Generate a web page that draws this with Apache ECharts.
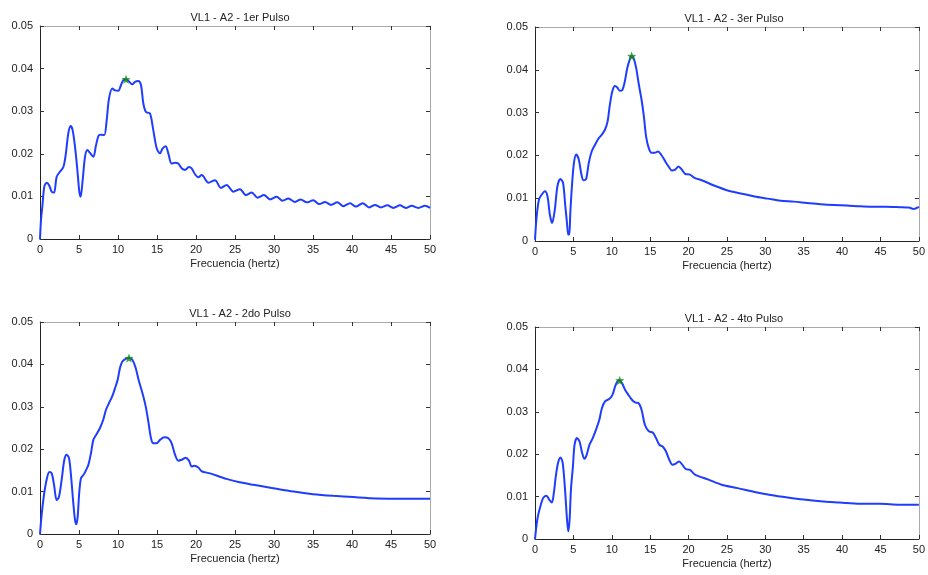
<!DOCTYPE html>
<html>
<head>
<meta charset="utf-8">
<script src="https://cdn.jsdelivr.net/npm/echarts@6/dist/echarts.min.js"></script>
<style>
  html, body { margin: 0; padding: 0; background: #ffffff; }
  #chart { width: 928px; height: 575px; }
</style>
</head>
<body>
<div id="chart"></div>
<script>
// Amplitude spectra of four pulses, VL1 - A2 (frequency in Hz, amplitude)
const titles = ['VL1 - A2 - 1er Pulso', 'VL1 - A2 - 3er Pulso', 'VL1 - A2 - 2do Pulso', 'VL1 - A2 - 4to Pulso'];
const xAxisName = 'Frecuencia (hertz)';

const freq1 = [0, 0.13, 0.3, 0.55, 0.85, 1.15, 1.5, 1.8, 2.14, 2.56, 3.0, 3.29, 3.63, 3.93, 4.19, 4.49, 4.79, 5.04, 5.21, 5.47, 5.77, 6.07, 6.41, 6.84, 7.18, 7.56, 7.91, 8.25, 8.55, 8.85, 9.27, 9.62, 10.04, 10.38, 10.68, 11.03, 11.45, 11.84, 12.18, 12.6, 12.95, 13.25, 13.59, 14.1, 14.53, 14.96, 15.38, 15.73, 16.11, 16.45, 16.88, 17.31, 17.73, 18.16, 18.59, 19.1, 19.44, 19.87, 20.3, 20.73, 21.6, 22.44, 23.2, 23.93, 24.8, 25.64, 26.4, 27.14, 27.9, 28.72, 29.5, 30.34, 31.1, 31.84, 32.7, 33.42, 34.2, 35.04, 35.8, 36.54, 37.3, 38.12, 38.9, 39.74, 40.5, 41.37, 42.2, 42.95, 43.7, 44.53, 45.3, 46.15, 46.9, 47.65, 48.5, 49.36, 50];
const amp1 = [0, 0.0045, 0.0076, 0.0123, 0.0132, 0.0127, 0.0111, 0.0109, 0.0146, 0.0158, 0.0169, 0.0197, 0.0248, 0.0265, 0.0255, 0.0216, 0.0162, 0.0111, 0.0099, 0.0138, 0.0193, 0.0209, 0.0202, 0.0193, 0.0220, 0.0244, 0.0245, 0.0244, 0.0279, 0.0330, 0.0353, 0.0349, 0.0348, 0.0361, 0.0373, 0.0375, 0.0369, 0.0363, 0.0369, 0.0371, 0.0361, 0.0318, 0.0298, 0.0295, 0.0255, 0.0213, 0.0201, 0.0213, 0.0218, 0.0201, 0.0177, 0.0179, 0.0177, 0.0166, 0.0162, 0.0169, 0.0166, 0.0152, 0.0145, 0.0150, 0.0132, 0.0138, 0.0120, 0.0127, 0.0111, 0.0117, 0.0103, 0.0109, 0.0097, 0.0103, 0.0093, 0.0099, 0.0090, 0.0095, 0.0087, 0.0093, 0.0086, 0.0091, 0.0082, 0.0087, 0.0080, 0.0086, 0.0077, 0.0084, 0.0076, 0.0084, 0.0074, 0.0080, 0.0074, 0.0079, 0.0073, 0.0079, 0.0073, 0.0078, 0.0073, 0.0078, 0.0073];

const freq3 = [0, 0.22, 0.52, 0.86, 1.29, 1.63, 1.93, 2.23, 2.58, 2.92, 3.31, 3.65, 3.95, 4.17, 4.34, 4.47, 4.6, 4.81, 5.07, 5.37, 5.71, 6.01, 6.31, 6.66, 7.0, 7.38, 7.82, 8.25, 8.68, 9.11, 9.45, 9.75, 10.09, 10.44, 10.74, 11.04, 11.38, 11.69, 12.02, 12.33, 12.59, 12.89, 13.18, 13.53, 13.88, 14.18, 14.47, 14.82, 15.17, 15.59, 16.02, 16.46, 16.97, 17.4, 17.82, 18.26, 18.69, 19.11, 19.55, 20.19, 20.84, 21.7, 23.4, 25.1, 26.8, 28.6, 30.3, 32.0, 33.7, 35.4, 37.2, 38.9, 40.6, 42.3, 44.0, 45.7, 47.5, 48.7, 49.3, 50];
const amp3 = [0.0003, 0.0058, 0.0097, 0.0108, 0.0116, 0.0104, 0.0062, 0.0042, 0.0073, 0.0128, 0.0145, 0.0136, 0.0081, 0.0042, 0.0015, 0.0015, 0.0066, 0.0128, 0.0182, 0.0202, 0.0190, 0.0159, 0.0142, 0.0145, 0.0182, 0.0209, 0.0225, 0.0239, 0.0248, 0.0260, 0.0279, 0.0318, 0.0351, 0.0362, 0.0358, 0.0351, 0.0353, 0.0372, 0.0404, 0.0423, 0.0432, 0.0425, 0.0404, 0.0365, 0.0330, 0.0291, 0.0244, 0.0217, 0.0206, 0.0206, 0.0209, 0.0201, 0.0186, 0.0174, 0.0165, 0.0167, 0.0174, 0.0167, 0.0157, 0.0155, 0.0147, 0.0142, 0.0129, 0.0118, 0.0111, 0.0104, 0.0099, 0.0094, 0.0092, 0.0089, 0.0086, 0.0084, 0.0083, 0.0081, 0.0080, 0.0080, 0.0079, 0.0078, 0.0075, 0.0080];

const freq2 = [0, 0.21, 0.51, 0.85, 1.2, 1.5, 1.8, 2.14, 2.44, 2.78, 3.12, 3.42, 3.72, 3.97, 4.27, 4.49, 4.66, 4.83, 5.04, 5.26, 5.56, 5.86, 6.2, 6.54, 6.84, 7.26, 7.69, 8.12, 8.46, 8.85, 9.27, 9.62, 9.96, 10.26, 10.56, 10.99, 11.41, 11.84, 12.26, 12.69, 13.12, 13.55, 13.89, 14.23, 14.53, 14.96, 15.38, 15.94, 16.45, 16.88, 17.31, 17.73, 18.16, 18.68, 19.1, 19.44, 19.78, 20.3, 20.73, 21.8, 23.9, 25.6, 27.4, 29.9, 32.5, 35.0, 37.6, 40.2, 43.2, 46.2, 50];
const amp2 = [0, 0.0045, 0.0092, 0.0128, 0.0146, 0.0143, 0.0116, 0.0080, 0.0088, 0.0128, 0.0175, 0.0187, 0.0179, 0.0139, 0.0073, 0.0033, 0.0023, 0.0041, 0.0100, 0.0132, 0.0139, 0.0149, 0.0163, 0.0191, 0.0222, 0.0236, 0.0250, 0.0270, 0.0293, 0.0309, 0.0325, 0.0344, 0.0364, 0.0392, 0.0407, 0.0413, 0.0415, 0.0411, 0.0392, 0.0360, 0.0333, 0.0301, 0.0265, 0.0226, 0.0214, 0.0214, 0.0222, 0.0228, 0.0226, 0.0214, 0.0187, 0.0173, 0.0175, 0.0180, 0.0173, 0.0159, 0.0161, 0.0157, 0.0148, 0.0143, 0.0130, 0.0122, 0.0116, 0.0108, 0.0100, 0.0094, 0.0090, 0.0087, 0.0084, 0.0083, 0.0083];

const freq4 = [0, 0.3, 0.64, 1.07, 1.5, 1.85, 2.19, 2.45, 2.71, 3.0, 3.31, 3.57, 3.78, 4.0, 4.17, 4.34, 4.51, 4.68, 4.94, 5.15, 5.46, 5.8, 6.14, 6.44, 6.74, 7.09, 7.52, 7.95, 8.38, 8.72, 9.15, 9.66, 10.09, 10.44, 10.74, 11.04, 11.38, 11.73, 12.16, 12.59, 13.02, 13.44, 13.88, 14.3, 14.82, 15.34, 15.76, 16.2, 16.62, 17.05, 17.49, 17.91, 18.34, 18.78, 19.2, 19.63, 20.19, 20.84, 22.6, 24.3, 26.4, 28.6, 30.7, 32.9, 35.0, 37.2, 39.7, 42.3, 44.9, 47.5, 50];
const amp4 = [0, 0.0046, 0.0073, 0.0097, 0.0102, 0.0093, 0.0086, 0.0108, 0.0148, 0.0179, 0.0192, 0.0183, 0.0148, 0.0093, 0.0046, 0.0018, 0.0046, 0.0116, 0.0171, 0.0222, 0.0238, 0.0230, 0.0203, 0.0189, 0.0199, 0.0222, 0.0238, 0.0258, 0.0281, 0.0309, 0.0325, 0.0330, 0.0340, 0.0360, 0.0372, 0.0374, 0.0366, 0.0352, 0.0340, 0.0329, 0.0322, 0.0321, 0.0305, 0.0270, 0.0254, 0.0251, 0.0238, 0.0222, 0.0218, 0.0207, 0.0187, 0.0175, 0.0178, 0.0183, 0.0175, 0.0165, 0.0163, 0.0152, 0.0140, 0.0128, 0.0120, 0.0111, 0.0104, 0.0098, 0.0093, 0.0089, 0.0086, 0.0083, 0.0083, 0.0081, 0.0081];

// panel order: top-left, top-right, bottom-left, bottom-right
const panelFreq = [freq1, freq3, freq2, freq4];
const panelAmp = [amp1, amp3, amp2, amp4];

const grids = [
  { left: 40, top: 26, width: 390, height: 213 },
  { left: 535, top: 27, width: 388, height: 214 },
  { left: 40, top: 322, width: 390, height: 212 },
  { left: 535, top: 327, width: 388, height: 212 }
];

const FONT = '"Liberation Sans", Arial, sans-serif';
const TXT = '#222';
const STAR = 'path://M0,-10 L2.6,-3.6 L9.5,-3.1 L4.2,1.4 L5.9,8.1 L0,4.5 L-5.9,8.1 L-4.2,1.4 L-9.5,-3.1 L-2.6,-3.6 Z';

const xAxes = [], yAxes = [], series = [], titleList = [];

grids.forEach((g, i) => {
  titleList.push({
    text: titles[i],
    left: g.left + g.width / 2,
    top: g.top - 19,
    textAlign: 'center',
    textStyle: { fontFamily: FONT, fontSize: 11, fontWeight: 'normal', color: TXT }
  });

  const tickIn = { show: true, inside: true, length: 4, lineStyle: { color: '#333', width: 1 } };

  xAxes.push({
    gridIndex: i, type: 'value', min: 0, max: 50, interval: 5, position: 'bottom',
    axisLine: { show: true, onZero: false, lineStyle: { color: '#222', width: 1 } },
    axisTick: tickIn,
    axisLabel: { color: TXT, fontFamily: FONT, fontSize: 11, margin: 5 },
    splitLine: { show: false },
    name: xAxisName, nameLocation: 'middle', nameGap: 19,
    nameTextStyle: { color: TXT, fontFamily: FONT, fontSize: 11 }
  });
  xAxes.push({
    gridIndex: i, type: 'value', min: 0, max: 50, interval: 5, position: 'top',
    axisLine: { show: true, onZero: false, lineStyle: { color: '#aaa', width: 1 } },
    axisTick: tickIn, axisLabel: { show: false }, splitLine: { show: false }
  });
  yAxes.push({
    gridIndex: i, type: 'value', min: 0, max: 0.05, interval: 0.01, position: 'left',
    axisLine: { show: true, onZero: false, lineStyle: { color: '#222', width: 1 } },
    axisTick: tickIn,
    axisLabel: {
      color: TXT, fontFamily: FONT, fontSize: 11, margin: 7,
      formatter: v => (v === 0 ? '0' : v.toFixed(2))
    },
    splitLine: { show: false }
  });
  yAxes.push({
    gridIndex: i, type: 'value', min: 0, max: 0.05, interval: 0.01, position: 'right',
    axisLine: { show: true, onZero: false, lineStyle: { color: '#aaa', width: 1 } },
    axisTick: tickIn, axisLabel: { show: false }, splitLine: { show: false }
  });

  const fx = panelFreq[i], ay = panelAmp[i];
  const pts = fx.map((f, k) => [f, ay[k]]);
  let iMax = 0;
  ay.forEach((v, k) => { if (v > ay[iMax]) iMax = k; });

  series.push({
    type: 'line', xAxisIndex: 2 * i, yAxisIndex: 2 * i,
    data: pts, showSymbol: false, smooth: 0.3, animation: false,
    lineStyle: { color: '#1f3dff', width: 2 }
  });
  series.push({
    type: 'scatter', xAxisIndex: 2 * i, yAxisIndex: 2 * i,
    data: [[fx[iMax], ay[iMax]]], symbol: STAR, symbolSize: 9, z: 5, animation: false,
    itemStyle: { color: '#118a11' }
  });
});

const chart = echarts.init(document.getElementById('chart'), null, { renderer: 'canvas' });
chart.setOption({
  backgroundColor: '#ffffff',
  animation: false,
  title: titleList,
  grid: grids,
  xAxis: xAxes,
  yAxis: yAxes,
  series: series
});
</script>
</body>
</html>
